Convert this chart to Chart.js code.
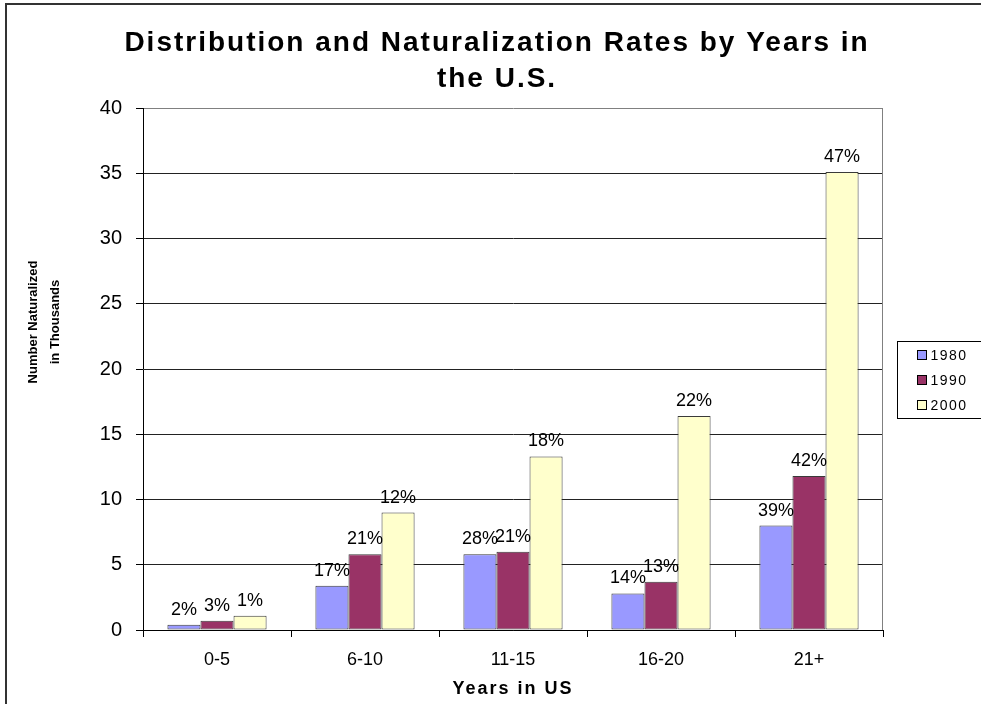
<!DOCTYPE html>
<html lang="en">
<head>
    <meta charset="UTF-8">
    <title>Distribution and Naturalization Rates by Years in the U.S.</title>
    <script src="https://cdn.jsdelivr.net/npm/chart.js"></script>
    <style>
        body {
            margin: 0;
            padding: 0;
            background-color: #ffffff;
            overflow: hidden;
        }

        .chart-box {
            position: relative;
            width: 981px;
            height: 704px;
        }
    </style>
</head>
<body>
    <div class="chart-box">
        <canvas id="natChart" width="981" height="704"></canvas>
    </div>

    <script>
        // Data (thousands naturalized, % labels)
        const categories = ['0-5', '6-10', '11-15', '16-20', '21+'];
        const seriesNames = ['1980', '1990', '2000'];
        const values1980 = [0.4, 3.4, 5.8, 2.8, 8.0];
        const values1990 = [0.7, 5.8, 6.0, 3.7, 11.8];
        const values2000 = [1.1, 9.0, 13.3, 16.4, 35.1];
        const rates1980 = [2, 17, 28, 14, 39];
        const rates1990 = [3, 21, 21, 13, 42];
        const rates2000 = [1, 12, 18, 22, 47];
        const yMax = 40;
        const yStep = 5;

        const titleLines = ['Distribution and Naturalization Rates by Years in', 'the U.S.'];
        const yTitleLines = ['Number Naturalized', 'in Thousands'];
        const xTitle = 'Years in US';

        const FONT = "'Liberation Sans', Arial, sans-serif";
        Chart.defaults.font.family = FONT;
        Chart.defaults.color = '#000000';

        const rates = [rates1980, rates1990, rates2000];

        // outer frame + letter spacing for the main title
        const frame = {
            id: 'frame',
            beforeDraw(chart) {
                const ctx = chart.ctx;
                ctx.save();
                ctx.strokeStyle = '#333333';
                ctx.lineWidth = 2;
                ctx.beginPath();
                ctx.moveTo(6, 990);
                ctx.lineTo(6, 4);
                ctx.lineTo(990, 4);
                ctx.stroke();
                ctx.restore();
                ctx.letterSpacing = '2px';
            },
            beforeDatasetsDraw(chart) {
                const ctx = chart.ctx;
                ctx.letterSpacing = '0px';
                // grey right edge of the plot area
                const a = chart.chartArea;
                ctx.save();
                ctx.strokeStyle = '#808080';
                ctx.lineWidth = 1;
                ctx.beginPath();
                ctx.moveTo(Math.round(a.right) - 0.5, a.top);
                ctx.lineTo(Math.round(a.right) - 0.5, a.bottom);
                ctx.stroke();
                ctx.restore();
            }
        };

        // percentage above each bar
        const rateLabels = {
            id: 'rateLabels',
            afterDatasetsDraw(chart) {
                const ctx = chart.ctx;
                ctx.save();
                ctx.font = '18px ' + FONT;
                ctx.fillStyle = '#000000';
                ctx.textAlign = 'center';
                ctx.textBaseline = 'alphabetic';
                chart.data.datasets.forEach((ds, i) => {
                    chart.getDatasetMeta(i).data.forEach((bar, j) => {
                        ctx.fillText(rates[i][j] + '%', bar.x, bar.y - 10);
                    });
                });
                ctx.restore();
            }
        };

        // two line rotated y axis title
        const yTitle = {
            id: 'yTitle',
            afterDraw(chart) {
                const ctx = chart.ctx;
                ctx.save();
                ctx.translate(44, 322);
                ctx.rotate(-Math.PI / 2);
                ctx.font = 'bold 13px ' + FONT;
                ctx.fillStyle = '#000000';
                ctx.textAlign = 'center';
                ctx.textBaseline = 'middle';
                ctx.fillText(yTitleLines[0], 0, -11);
                ctx.fillText(yTitleLines[1], 0, 11);
                ctx.restore();
            }
        };

        // boxed legend on the right, added as a layout box so it takes its own space
        const boxLegend = {
            id: 'boxLegend',
            start(chart) {
                const box = {
                    position: 'right',
                    weight: 1000,
                    fullSize: false,
                    options: {},
                    left: 0, top: 0, right: 0, bottom: 0, width: 0, height: 0,
                    isHorizontal() { return false; },
                    update(maxWidth, maxHeight) {
                        this.width = 98;
                        this.height = maxHeight;
                    },
                    draw() {
                        const ctx = chart.ctx;
                        const x0 = this.left + 14.5;
                        const y0 = 341.5;
                        ctx.save();
                        ctx.strokeStyle = '#000000';
                        ctx.lineWidth = 1;
                        ctx.strokeRect(x0, y0, 120, 77);
                        ctx.font = '14px ' + FONT;
                        ctx.letterSpacing = '1.5px';
                        ctx.textAlign = 'left';
                        ctx.textBaseline = 'middle';
                        chart.data.datasets.forEach((ds, i) => {
                            const cy = y0 + 13.5 + i * 25;
                            ctx.fillStyle = ds.backgroundColor;
                            ctx.fillRect(x0 + 20, cy - 4.5, 9, 9);
                            ctx.strokeRect(x0 + 20, cy - 4.5, 9, 9);
                            ctx.fillStyle = '#000000';
                            ctx.fillText(ds.label, x0 + 33, cy + 1);
                        });
                        ctx.restore();
                    }
                };
                Chart.layouts.addBox(chart, box);
            }
        };

        const ctx = document.getElementById('natChart').getContext('2d');

        const chart = new Chart(ctx, {
            type: 'bar',
            data: {
                labels: categories,
                datasets: [
                    { label: seriesNames[0], data: values1980, backgroundColor: '#9999FF' },
                    { label: seriesNames[1], data: values1990, backgroundColor: '#993366' },
                    { label: seriesNames[2], data: values2000, backgroundColor: '#FFFFCC' }
                ]
            },
            options: {
                responsive: false,
                animation: false,
                layout: {
                    padding: { left: 13, right: 0, top: 0, bottom: 0 }
                },
                datasets: {
                    bar: {
                        borderColor: '#3a3a3a',
                        borderWidth: 1,
                        borderSkipped: false,
                        categoryPercentage: 0.67,
                        barPercentage: 1.0
                    }
                },
                plugins: {
                    legend: { display: false },
                    tooltip: { enabled: false },
                    title: {
                        display: true,
                        text: titleLines,
                        color: '#000000',
                        font: { size: 28, weight: 'bold', lineHeight: 36 / 28 },
                        padding: { top: 25, bottom: 11 }
                    }
                },
                scales: {
                    x: {
                        afterFit(scale) { scale.height = 74; },
                        grid: {
                            display: true,
                            drawOnChartArea: false,
                            drawTicks: true,
                            tickLength: 7,
                            color: '#000000'
                        },
                        border: { color: '#000000' },
                        ticks: {
                            z: 1,
                            padding: 12,
                            color: '#000000',
                            font: { size: 18 }
                        },
                        title: {
                            display: true,
                            text: xTitle,
                            color: '#000000',
                            font: { size: 18, weight: 'bold' },
                            padding: { top: 0, bottom: 4 }
                        }
                    },
                    y: {
                        min: 0,
                        max: yMax,
                        afterFit(scale) { scale.width = 130; },
                        grid: {
                            color: (c) => (c.tick && c.tick.value === yMax ? '#808080' : '#222222'),
                            tickColor: '#000000',
                            tickLength: 7
                        },
                        border: { color: '#000000' },
                        ticks: {
                            z: 1,
                            stepSize: yStep,
                            padding: 14,
                            color: '#000000',
                            font: { size: 20 }
                        }
                    }
                }
            },
            plugins: [frame, rateLabels, yTitle, boxLegend]
        });
    </script>
</body>
</html>
